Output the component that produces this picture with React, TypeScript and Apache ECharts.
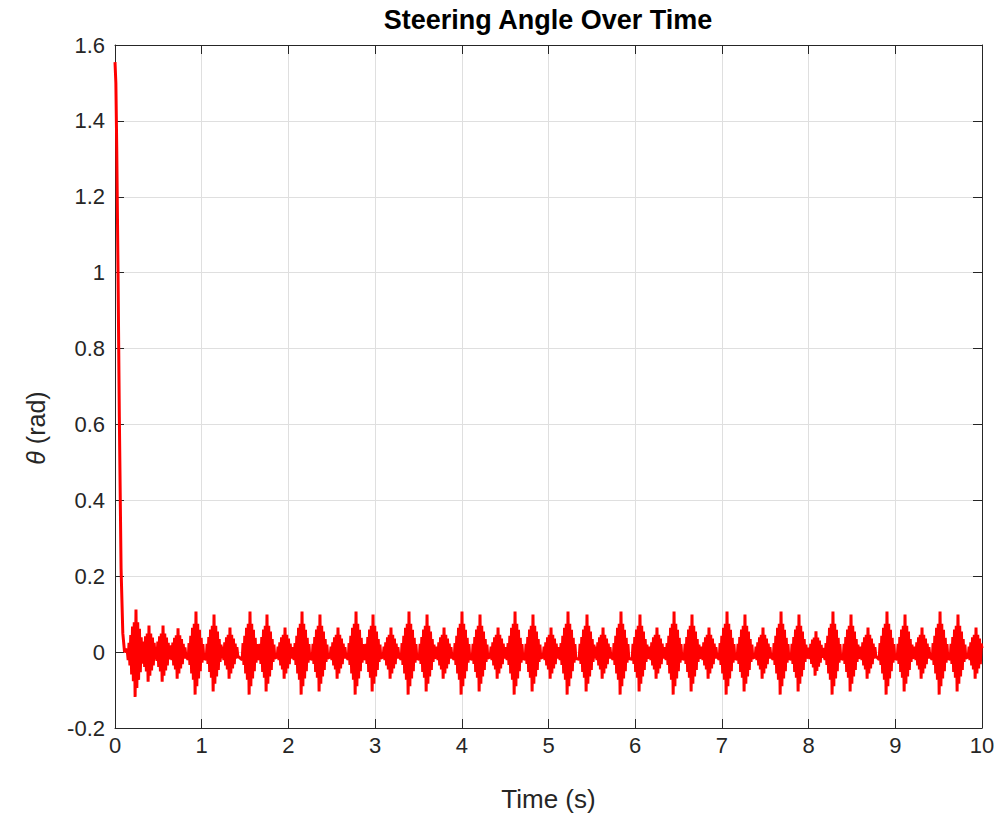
import React, { useEffect, useRef } from "react";
import * as echarts from "echarts";

// Initial transient (time in s, angle in rad)
const decayTimes = [0, 0.01, 0.02, 0.035, 0.05, 0.07, 0.09, 0.11, 0.14];
const decayValues = [1.555, 1.5, 1.33, 1.0, 0.62, 0.22, 0.05, 0.0, 0.008];

// Oscillation bursts: centre time, upper peak, lower trough
const burstTimes = [
  0.242, 0.392, 0.554, 0.727, 0.934, 1.142, 1.326, 1.557, 1.753, 1.961,
  2.157, 2.364, 2.572, 2.78, 2.976, 3.183, 3.391, 3.599, 3.795, 4.002,
  4.21, 4.418, 4.614, 4.821, 5.029, 5.225, 5.444, 5.629, 5.836, 6.055,
  6.251, 6.448, 6.655, 6.851, 7.059, 7.266, 7.474, 7.682, 7.889, 8.085,
  8.281, 8.489, 8.685, 8.904, 9.112, 9.308, 9.516, 9.723, 9.931,
];
const burstHighs = [
  0.112, 0.07, 0.07, 0.063, 0.107, 0.099, 0.065, 0.107, 0.099, 0.065,
  0.107, 0.099, 0.065, 0.107, 0.099, 0.065, 0.107, 0.099, 0.065, 0.107,
  0.099, 0.065, 0.107, 0.099, 0.065, 0.107, 0.099, 0.065, 0.107, 0.099,
  0.065, 0.107, 0.099, 0.065, 0.107, 0.099, 0.065, 0.107, 0.099, 0.055,
  0.107, 0.099, 0.065, 0.107, 0.099, 0.065, 0.107, 0.099, 0.065,
];
const burstLows = [
  -0.118, -0.078, -0.078, -0.07, -0.112, -0.104, -0.07, -0.112, -0.104, -0.07,
  -0.112, -0.104, -0.07, -0.112, -0.104, -0.07, -0.112, -0.104, -0.07, -0.112,
  -0.104, -0.07, -0.112, -0.104, -0.07, -0.112, -0.104, -0.07, -0.112, -0.104,
  -0.07, -0.112, -0.104, -0.07, -0.112, -0.104, -0.07, -0.112, -0.104, -0.062,
  -0.112, -0.104, -0.07, -0.112, -0.104, -0.07, -0.112, -0.104, -0.07,
];
// Shape of one burst: sample offsets (s) and envelope fraction
const burstOffsets = [
  -0.09, -0.08, -0.07, -0.06, -0.05, -0.04, -0.03, -0.02, -0.01, 0,
  0.01, 0.02, 0.03, 0.04, 0.05, 0.06, 0.07, 0.08, 0.09,
];
const burstEnvelope = [
  0.18, 0.22, 0.3, 0.4, 0.5, 0.6, 0.65, 0.7, 1.0, 1.0,
  0.8, 0.7, 0.62, 0.55, 0.45, 0.35, 0.25, 0.2, 0.15,
];
const endPoint: [number, number] = [10, 0.01];

const xTicks = [0, 10, 1];
const yTicks = [-0.2, 1.6, 0.2];

function buildSeries(): [number, number][] {
  const pts: [number, number][] = decayTimes.map((t, i) => [t, decayValues[i]]);
  const last = decayTimes[decayTimes.length - 1];
  for (let i = 0; i < burstTimes.length; i++) {
    const t = burstTimes[i];
    const lo = i === 0 ? last : (burstTimes[i - 1] + t) / 2;
    const hi = i === burstTimes.length - 1 ? endPoint[0] : (t + burstTimes[i + 1]) / 2;
    burstOffsets.forEach((off, k) => {
      const tt = t + off;
      if (tt > lo && tt < hi) {
        const v = k % 2 === 1 ? burstHighs[i] : burstLows[i];
        pts.push([+tt.toFixed(4), +(v * burstEnvelope[k]).toFixed(4)]);
      }
    });
  }
  pts.push(endPoint);
  return pts;
}

const FONT = "'Liberation Sans', Arial, Helvetica, sans-serif";
const AX = "#262626";

export default function App() {
  const ref = useRef<HTMLDivElement>(null);
  useEffect(() => {
    if (!ref.current) return;
    const chart = echarts.init(ref.current, undefined, { renderer: "svg" });
    const common = {
      type: "value" as const,
      min: xTicks[0],
      max: xTicks[1],
      interval: xTicks[2],
    };
    const tick = { show: true, inside: true, length: 9, lineStyle: { color: AX, width: 1 } };
    chart.setOption({
      animation: false,
      backgroundColor: "#ffffff",
      grid: { left: 115, right: 22, top: 45, bottom: 89, show: false },
      graphic: [
        {
          type: "text",
          x: 548,
          y: 20,
          style: {
            text: "Steering Angle Over Time",
            fill: "#000000",
            font: `bold 27px ${FONT}`,
            textAlign: "center",
            textVerticalAlign: "middle",
          },
        },
        {
          type: "text",
          x: 36,
          y: 428,
          rotation: Math.PI / 2,
          style: {
            rich: {
              i: { fontStyle: "italic", fontSize: 25, fontFamily: FONT, fill: AX },
              n: { fontSize: 25, fontFamily: FONT, fill: AX },
            },
            text: "{i|θ}{n| (rad)}",
            align: "center",
            verticalAlign: "middle",
          },
        },
      ],
      xAxis: [
        {
          ...common,
          position: "bottom",
          axisLine: { show: true, onZero: false, lineStyle: { color: AX, width: 1 } },
          axisTick: tick,
          axisLabel: { color: AX, fontSize: 22, fontFamily: FONT, margin: 6 },
          splitLine: { show: true, lineStyle: { color: "#dfdfdf", width: 1 } },
          name: "Time (s)",
          nameLocation: "middle",
          nameGap: 58,
          nameTextStyle: { color: AX, fontSize: 26, fontFamily: FONT },
        },
        {
          ...common,
          position: "top",
          axisLine: { show: true, onZero: false, lineStyle: { color: AX, width: 1 } },
          axisTick: tick,
          axisLabel: { show: false },
          splitLine: { show: false },
        },
      ],
      yAxis: [
        {
          type: "value",
          min: yTicks[0],
          max: yTicks[1],
          interval: yTicks[2],
          position: "left",
          axisLine: { show: true, onZero: false, lineStyle: { color: AX, width: 1 } },
          axisTick: tick,
          axisLabel: { color: AX, fontSize: 22, fontFamily: FONT, margin: 10 },
          splitLine: { show: true, lineStyle: { color: "#dfdfdf", width: 1 } },
        },
        {
          type: "value",
          min: yTicks[0],
          max: yTicks[1],
          interval: yTicks[2],
          position: "right",
          axisLine: { show: true, onZero: false, lineStyle: { color: AX, width: 1 } },
          axisTick: tick,
          axisLabel: { show: false },
          splitLine: { show: false },
        },
      ],
      series: [
        {
          type: "line",
          xAxisIndex: 0,
          yAxisIndex: 0,
          data: buildSeries(),
          showSymbol: false,
          symbol: "none",
          lineStyle: { color: "#ff0000", width: 3 },
          z: 5,
        },
      ],
    });
    return () => chart.dispose();
  }, []);
  return (
    <div
      ref={ref}
      style={{ position: "absolute", left: 0, top: 0, width: 1004, height: 817, background: "#fff" }}
    />
  );
}
